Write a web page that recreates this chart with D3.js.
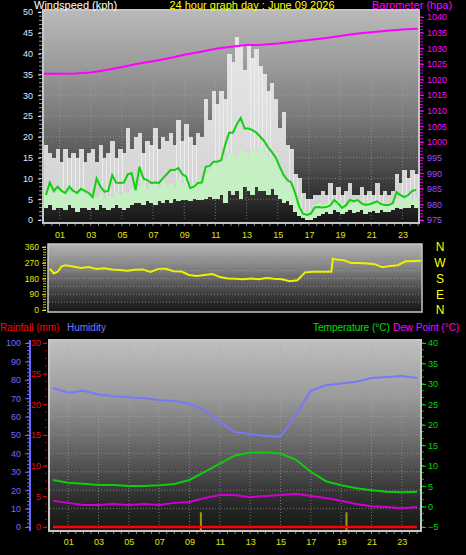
<!DOCTYPE html>
<html><head><meta charset="utf-8">
<script src="https://cdn.jsdelivr.net/npm/d3@7"></script>
<style>
body{margin:0;background:#000;}
svg{display:block;}
text{font-family:"Liberation Sans",Arial,sans-serif;}
</style>
</head><body>
<svg id="c" width="466" height="555"></svg>
<script>
// ---------------- DATA ----------------
const hourTicks = [1,3,5,7,9,11,13,15,17,19,21,23];
const hourLabels = ["01","03","05","07","09","11","13","15","17","19","21","23"];
const windTicks = [0,5,10,15,20,25,30,35,40,45,50];
const baroTicks = [975,980,985,990,995,1000,1005,1010,1015,1020,1025,1030,1035,1040];
const dirTicks = [0,90,180,270,360];
const compassLabels = ["N","E","S","W","N"];
const humTicks = [0,10,20,30,40,50,60,70,80,90,100];
const rainTicks = [0,5,10,15,20,25,30];
const tempTicks = [-5,0,5,10,15,20,25,30,35,40];

// wind (kph), every 15 minutes
const windGust = [18,16,15,17, 14,17,15,16, 15,17,14,16, 17,14,18,15, 16,19,15,17, 16,22,17,20,
  21,16,19,18, 22,17,20,19, 21,18,24,19, 23,20,18,21, 20,29,24,31, 28,31,29,40,
  38,44,42,36, 42,39,41,37, 35,31,33,29, 22,26,18,17, 11,10,6.5,5, 5,6,6,7,
  6,9,6,8, 6,7,9,6, 6,8,6,7, 6,9,6,7, 6,7,11,9, 12,10,12,11];
const windSpeed = [7,8,6.5,7.5, 7,6,7.5,7, 6.5,7,6,7, 6,5.5,6.5,5, 6,5.5,6.5,6, 7,6.5,7.5,7,
  8,9,7.5,8.5, 9,8,9.5,8.5, 9,8,9.5,9, 9,8.5,9,9.5, 9,11,12,14, 13,14,15,16,
  16,15,17,16, 15.5,17,16,17.5, 16,15,14,16, 12,10,9,8, 6,5,2.5,2, 2.4,3.5,4,3.5,
  4,4.5,3.5,4.8, 4,3.5,4.5,4, 4.5,4,3.5,4.8, 4,4.5,3.5,4, 4,3.8,5,5.5, 5,5.5,4.8,5.5];
const windLull = [3,3.5,2.5,3, 3,2.5,3.5,3, 2,3,3,2.5, 3,2.5,3.5,3, 2.5,3,3.5,3, 2.5,3,3.5,4,
  4,3.5,4.5,4, 3.5,4.5,4,4.8, 4,5,4.5,4.8, 4.8,4.5,5,4.8, 4.8,5,5.5,5, 5,6,4,7,
  6,7,5,8, 7,6,8,7, 7,6,7.5,6, 5,4,4.5,3.5, 2,1,0.5,0, 0,0.5,1,1.5,
  2,1.5,2.4,2, 1.5,2,2.4,1.8, 2,2.4,1.5,2, 2.2,1.8,2.4,2, 2,2.4,3,2.6, 3,3,3.5,3];
const windAvg = [6,9,7,8, 7,6.5,8,7, 6.5,7.5,7,6.5, 5.5,10,8,6.8, 7,10.8,9,8.9, 9,11,11.3,7.2,
  12.8,10,9.6,8.9, 9,8.9,10,11, 12,12,12.5,11, 10.4,7.7,8,8.9, 9,12.8,13,14, 14,14.4,18,21,
  21,23,24.5,22, 22,21.6,21,20, 19,17.5,16.3,15, 12.8,10.8,9.6,9, 6.4,3.2,1.5,1.2, 1.5,3,3.1,3,
  3.1,3.5,4.8,4, 2.9,3.5,4.8,4.5, 4.8,4,3.6,3.8, 4.1,4.5,3.8,3.6, 3.6,4,6.7,6, 5.5,6,7,7.2];
// barometer (hPa), hourly 0..24
const baro = [1021.8,1021.8,1021.9,1022.2,1023,1024,1025,1025.8,1026.8,1027.9,1028.8,1029.8,1030.5,
  1031,1031.1,1031.5,1032.1,1032.6,1033.2,1033.9,1034.6,1035.1,1035.6,1036,1036.2];
// wind direction (degrees)
const dirHours = [0,0.25,0.5,0.75,1,1.5,2,2.5,3,3.5,4,4.5,5,5.5,6,6.5,7,7.5,8,8.5,9,9.5,10,10.5,11,11.5,
  12,12.5,13,13.5,14,14.5,15,15.5,16,16.5,17,17.5,18,18.2,18.3,18.5,19,19.5,20,20.5,21,21.5,22,22.5,23,23.5,24];
const dirValues = [237,209,219,250,256,248,240,245,235,238,232,228,224,230,232,218,235,236,222,220,200,195,200,205,188,180,
  178,176,180,176,183,178,176,165,170,215,219,219,219,219,294,288,285,268,268,266,262,245,252,256,278,280,281];
// hourly 0..24
const humidity = [75.5,73,74,72,71,70.5,70,69,68.5,67,63.5,57,51.6,50.5,49.5,49,61,74,77,78,79,81,81.5,82,81];
const temperature = [6.5,5.8,5.6,5.3,5.3,5.0,5.0,5.2,5.5,6.5,8.5,10.5,12.5,13.2,13.3,13.0,11.5,8.5,6.2,5.2,4.5,4.0,3.6,3.5,3.6];
const dewPoint = [1.4,0.9,0.4,0.4,0.6,0.4,0.6,0.4,0.9,1.1,2.1,2.8,2.8,2.3,2.6,2.8,3.1,2.6,2.1,1.4,0.6,0.1,-0.1,-0.4,-0.1];
const rainfall = [0,0,0,0,0,0,0,0,0,0,0,0,0,0,0,0,0,0,0,0,0,0,0,0,0];
const rainMarkHours = [9.75,19.35];
const rainMarkValues = [2.4,2.4];

// ---------------- DRAW ----------------
const svg = d3.select("#c");
const defs = svg.append("defs");
function grad(id, stops){
  const g = defs.append("linearGradient").attr("id",id).attr("x1",0).attr("y1",0).attr("x2",0).attr("y2",1);
  stops.forEach(s=>g.append("stop").attr("offset",s[0]).attr("stop-color",s[1]));
}
grad("gTop",[[0,"#bababa"],[0.25,"#9c9c9c"],[0.5,"#7a7a7a"],[0.75,"#4a4a4a"],[0.92,"#262626"],[1,"#151515"]]);
grad("gMid",[[0,"#b4b4b4"],[0.4,"#7a7a7a"],[0.75,"#3a3a3a"],[1,"#141414"]]);
grad("gBot",[[0,"#c0c0c0"],[0.3,"#9a9a9a"],[0.6,"#5e5e5e"],[0.85,"#2a2a2a"],[1,"#161616"]]);

function styleAxis(g, color, fs){
  g.select(".domain").remove();
  g.selectAll("line").attr("stroke",color);
  g.selectAll("text").attr("fill",color).style("font-size",fs+"px").style("font-family","'Liberation Sans',Arial,sans-serif");
}
const fmtD = d3.format("d");

// ===== TOP PANEL =====
const xT = d3.scaleLinear().domain([0,24]).range([44,418]);
const yW = d3.scaleLinear().domain([0,50]).range([220,12]);
const yB = d3.scaleLinear().domain([975,1040]).range([220,17]);

svg.append("rect").attr("x",43).attr("y",10).attr("width",376).attr("height",213)
  .attr("fill","url(#gTop)").attr("stroke","#c6c6c6").attr("stroke-width",2);

// grid
const gT = svg.append("g").attr("stroke","#a8a8a8").attr("stroke-dasharray","1,2").attr("stroke-opacity",0.6);
windTicks.slice(1,-1).forEach(v=>gT.append("line").attr("x1",44).attr("x2",418).attr("y1",yW(v)).attr("y2",yW(v)));
hourTicks.forEach(h=>gT.append("line").attr("x1",xT(h)).attr("x2",xT(h)).attr("y1",11).attr("y2",221));

// wind bars
const bw = xT(0.25)-xT(0);
svg.append("g").attr("shape-rendering","crispEdges").selectAll("rect").data(windGust).join("rect")
  .attr("x",(d,i)=>xT(i*0.25)).attr("width",bw+0.6)
  .attr("y",d=>yW(d)).attr("height",(d,i)=>yW(windLull[i])-yW(d))
  .attr("fill","#f0f0f0").attr("fill-opacity",0.85);
svg.append("g").attr("shape-rendering","crispEdges").selectAll("rect").data(windSpeed).join("rect")
  .attr("x",(d,i)=>xT(i*0.25)).attr("width",bw+0.6)
  .attr("y",d=>yW(d)).attr("height",(d,i)=>Math.max(0,yW(windLull[i])-yW(d)))
  .attr("fill","#c4f0c4");
svg.append("path").datum(windAvg)
  .attr("d",d3.line().x((d,i)=>xT(i*0.25+0.125)).y(d=>yW(d)))
  .attr("fill","none").attr("stroke","#10d010").attr("stroke-width",2);
svg.append("path").datum(baro)
  .attr("d",d3.line().x((d,i)=>xT(i)).y(d=>yB(d)))
  .attr("fill","none").attr("stroke","#ff00ff").attr("stroke-width",2);

// left wind axis
svg.append("g").selectAll("line").data(d3.range(0,51,1)).join("line")
  .attr("x1",39).attr("x2",42).attr("y1",d=>yW(d)).attr("y2",d=>yW(d)).attr("stroke","#9a9a9a");
const axW = svg.append("g").attr("transform","translate(41,0)")
  .call(d3.axisLeft(yW).tickValues(windTicks).tickSize(3).tickPadding(5));
styleAxis(axW,"#dfe8ff",9);
// right baro axis
svg.append("g").selectAll("line").data(d3.range(975,1041,1)).join("line")
  .attr("x1",420).attr("x2",423).attr("y1",d=>yB(d)).attr("y2",d=>yB(d)).attr("stroke","#d000d0");
const axB = svg.append("g").attr("transform","translate(420,0)")
  .call(d3.axisRight(yB).tickValues(baroTicks).tickFormat(fmtD).tickSize(4).tickPadding(3));
styleAxis(axB,"#ff00ff",9);
axB.selectAll("text").attr("fill",d=>d>=1000?"#ff00ff":"#a04cff");
// top x axis
svg.append("g").selectAll("line").data(d3.range(0,24.01,0.5)).join("line")
  .attr("x1",d=>xT(d)).attr("x2",d=>xT(d)).attr("y1",224).attr("y2",226).attr("stroke","#8a8a8a");
const axXT = svg.append("g").attr("transform","translate(0,223)")
  .call(d3.axisBottom(xT).tickValues(hourTicks).tickFormat((d,i)=>hourLabels[i]).tickSize(0).tickPadding(9));
styleAxis(axXT,"#e4e400",9);

// headers
svg.append("text").attr("x",34).attr("y",9).attr("fill","#ffffff").style("font-size","11px").text("Windspeed (kph)");
svg.append("text").attr("x",252).attr("y",9).attr("text-anchor","middle").attr("fill","#ffff00").style("font-size","11px").text("24 hour graph day : June 09 2026");
svg.append("text").attr("x",372).attr("y",9).attr("fill","#ff00ff").style("font-size","11px").text("Barometer (hpa)");

// ===== MIDDLE PANEL =====
const xM = d3.scaleLinear().domain([0,24]).range([50,421]);
const yD = d3.scaleLinear().domain([0,360]).range([310,247]);
svg.append("rect").attr("x",48).attr("y",244).attr("width",374).attr("height",68)
  .attr("fill","url(#gMid)").attr("stroke","#c6c6c6").attr("stroke-width",1.5);
const gM = svg.append("g").attr("stroke","#b0b0b0").attr("stroke-dasharray","1,2").attr("stroke-opacity",0.6);
[45,90,135,180,225,270,315].forEach(v=>gM.append("line").attr("x1",49).attr("x2",421).attr("y1",yD(v)).attr("y2",yD(v)));
svg.append("path").datum(dirValues)
  .attr("d",d3.line().x((d,i)=>xM(dirHours[i])).y(d=>yD(d)))
  .attr("fill","none").attr("stroke","#f0f000").attr("stroke-width",2);
svg.append("g").selectAll("line").data(d3.range(0,361,15)).join("line")
  .attr("x1",43).attr("x2",46).attr("y1",d=>yD(d)).attr("y2",d=>yD(d)).attr("stroke","#c8c800");
const axD = svg.append("g").attr("transform","translate(46,0)")
  .call(d3.axisLeft(yD).tickValues(dirTicks).tickSize(4).tickPadding(3));
styleAxis(axD,"#e4e400",8.5);
svg.append("g").selectAll("text").data(dirTicks).join("text")
  .attr("x",440).attr("y",d=>yD(d)).attr("dy","0.36em").attr("text-anchor","middle")
  .attr("fill","#ffff00").style("font-size","12px").text((d,i)=>compassLabels[i]);

// ===== BOTTOM PANEL =====
const xB = d3.scaleLinear().domain([0,24]).range([53,417]);
const yH = d3.scaleLinear().domain([0,100]).range([527,343]);
const yT = d3.scaleLinear().domain([-5,40]).range([527,343]);
const yR = d3.scaleLinear().domain([0,30]).range([527,343]);

svg.append("text").attr("x",0).attr("y",331).attr("fill","#ff0000").style("font-size","10px").text("Rainfall (mm)");
svg.append("text").attr("x",67).attr("y",331).attr("fill","#7878ff").style("font-size","10px").text("Humidity");
svg.append("text").attr("x",313).attr("y",331).attr("fill","#00e000").style("font-size","10px").text("Temperature (°C)");
svg.append("text").attr("x",393).attr("y",331).attr("fill","#ff00ff").style("font-size","10px").text("Dew Point (°C)");

svg.append("rect").attr("x",49).attr("y",340).attr("width",372).attr("height",191)
  .attr("fill","url(#gBot)").attr("stroke","#c6c6c6").attr("stroke-width",2);
const gB = svg.append("g").attr("stroke","#a8a8a8").attr("stroke-dasharray","1,2").attr("stroke-opacity",0.6);
humTicks.slice(1,-1).forEach(v=>gB.append("line").attr("x1",50).attr("x2",420).attr("y1",yH(v)).attr("y2",yH(v)));
hourTicks.forEach(h=>gB.append("line").attr("x1",xB(h)).attr("x2",xB(h)).attr("y1",341).attr("y2",530));

// rain markers
svg.append("g").selectAll("line").data(rainMarkValues).join("line")
  .attr("x1",(d,i)=>xB(rainMarkHours[i])).attr("x2",(d,i)=>xB(rainMarkHours[i]))
  .attr("y1",530).attr("y2",d=>yR(d)).attr("stroke","#a89800").attr("stroke-width",2);
// rainfall
svg.append("path").datum(rainfall)
  .attr("d",d3.line().x((d,i)=>xB(i)).y(d=>yR(d)))
  .attr("fill","none").attr("stroke","#ff0000").attr("stroke-width",2.5);
svg.append("path").datum(humidity)
  .attr("d",d3.line().x((d,i)=>xB(i)).y(d=>yH(d)))
  .attr("fill","none").attr("stroke","#7878f8").attr("stroke-width",2);
svg.append("path").datum(temperature)
  .attr("d",d3.line().x((d,i)=>xB(i)).y(d=>yT(d)))
  .attr("fill","none").attr("stroke","#10cc10").attr("stroke-width",2);
svg.append("path").datum(dewPoint)
  .attr("d",d3.line().x((d,i)=>xB(i)).y(d=>yT(d)))
  .attr("fill","none").attr("stroke","#d000d0").attr("stroke-width",2);

// humidity axis
svg.append("line").attr("x1",30).attr("x2",30).attr("y1",340).attr("y2",531).attr("stroke","#6a6aff").attr("stroke-width",2);
svg.append("g").selectAll("line").data(d3.range(0,101,2)).join("line")
  .attr("x1",27).attr("x2",29).attr("y1",d=>yH(d)).attr("y2",d=>yH(d)).attr("stroke","#6a6aff");
const axH = svg.append("g").attr("transform","translate(29,0)")
  .call(d3.axisLeft(yH).tickValues(humTicks).tickSize(4).tickPadding(4));
styleAxis(axH,"#6e6eff",9);
// rain axis
svg.append("g").selectAll("line").data(d3.range(0,30.01,1.25)).join("line")
  .attr("x1",45).attr("x2",47).attr("y1",d=>yR(d)).attr("y2",d=>yR(d)).attr("stroke","#c00000");
const axR = svg.append("g").attr("transform","translate(47,0)")
  .call(d3.axisLeft(yR).tickValues(rainTicks).tickSize(4).tickPadding(2));
styleAxis(axR,"#ff0000",9);
// temperature axis
svg.append("g").selectAll("line").data(d3.range(-5,40.01,5/3)).join("line")
  .attr("x1",422).attr("x2",424).attr("y1",d=>yT(d)).attr("y2",d=>yT(d)).attr("stroke","#00b000");
const axTe = svg.append("g").attr("transform","translate(422,0)")
  .call(d3.axisRight(yT).tickValues(tempTicks).tickSize(4).tickPadding(2));
styleAxis(axTe,"#00dd00",9);
// bottom x axis
svg.append("g").selectAll("line").data(d3.range(0,24.01,0.5)).join("line")
  .attr("x1",d=>xB(d)).attr("x2",d=>xB(d)).attr("y1",532).attr("y2",534).attr("stroke","#8a8a8a");
const axXB = svg.append("g").attr("transform","translate(0,531)")
  .call(d3.axisBottom(xB).tickValues(hourTicks).tickFormat((d,i)=>hourLabels[i]).tickSize(0).tickPadding(8));
styleAxis(axXB,"#e4e400",9);
</script>
</body></html>
